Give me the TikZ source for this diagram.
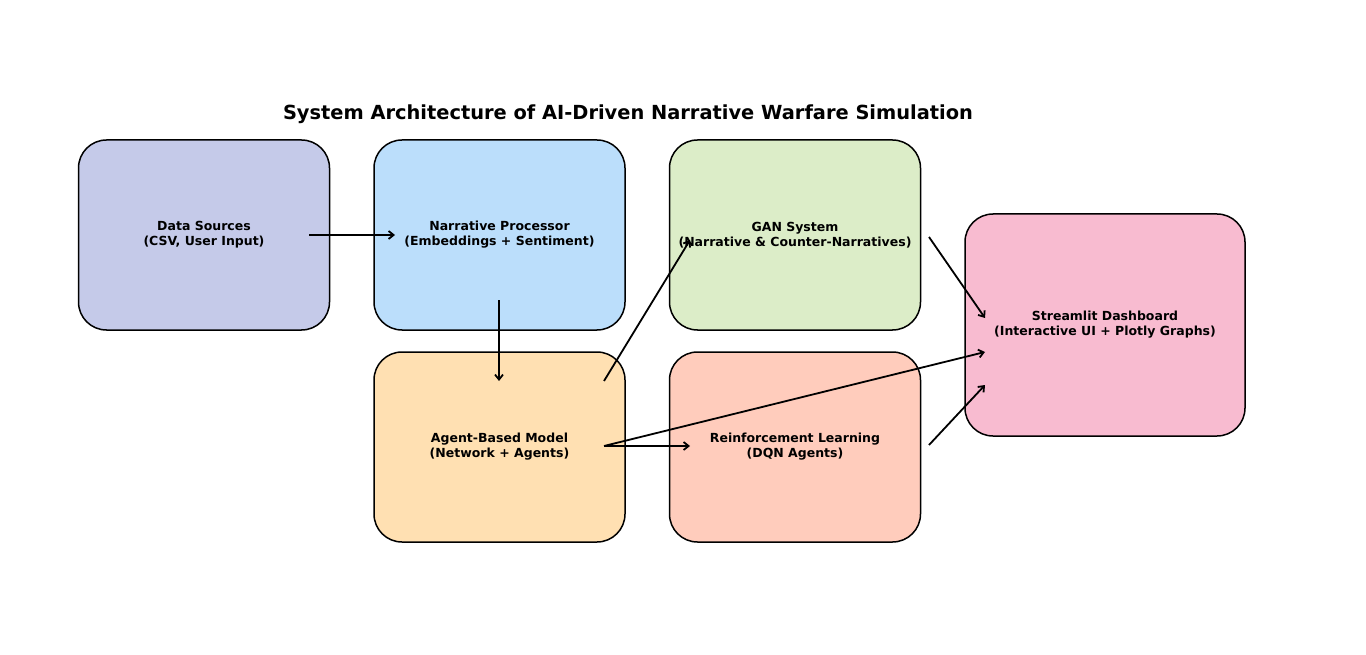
\documentclass[tikz,border=0pt]{standalone}
\usepackage{fontspec}
\setmainfont{DejaVu Sans}
\usepackage{xcolor}
\usetikzlibrary{
    arrows.meta,
    positioning
}
\definecolor{srcfill}{HTML}{C5CAE9}
\definecolor{procfill}{HTML}{BBDEFB}
\definecolor{ganfill}{HTML}{DCEDC8}
\definecolor{dashfill}{HTML}{F8BBD0}
\definecolor{abmfill}{HTML}{FFE0B2}
\definecolor{rlfill}{HTML}{FFCCBC}

\begin{document}
\begin{tikzpicture}[x=1pt, y=-1pt,
    block/.style={draw=black, line width=1.5pt, rounded corners=28pt,
        minimum width=251pt, minimum height=190pt, align=center,
        font=\fontsize{12.5pt}{15pt}\selectfont\bfseries},
    flow/.style={-{Straight Barb[length=5pt,width=8pt]}, line width=1.8pt}]
                        \useasboundingbox (0, 0) rectangle (1366, 655);
                        \node[font=\fontsize{19.4pt}{23pt}\selectfont\bfseries] (title) at (628, 114)
                            {System Architecture of AI-Driven Narrative Warfare Simulation};
                        \node[block, fill=srcfill] (src) at (204, 235)
                            {Data Sources\\(CSV, User Input)};
                        \node[block, fill=procfill] (proc) at (499.5, 235)
                            {Narrative Processor\\(Embeddings + Sentiment)};
                        \node[block, fill=ganfill] (gan) at (795, 235)
                            {GAN System\\(Narrative \& Counter-Narratives)};
                        \node[block, fill=abmfill] (abm) at (499.5, 447)
                            {Agent-Based Model\\(Network + Agents)};
                        \node[block, fill=rlfill] (rl) at (795, 447)
                            {Reinforcement Learning\\(DQN Agents)};
                        \node[block, fill=dashfill, minimum width=280pt, minimum height=222pt] (dash) at (1105, 325)
                            {Streamlit Dashboard\\(Interactive UI + Plotly Graphs)};
                        % arrow end points
                        \coordinate (src-out) at (309, 235);
                        \coordinate (proc-in) at (395, 235);
                        \coordinate (proc-out) at (499, 300);
                        \coordinate (abm-in) at (499, 381);
                        \coordinate (abm-up) at (604, 381);
                        \coordinate (abm-out) at (604, 446);
                        \coordinate (gan-in) at (690, 240);
                        \coordinate (gan-out) at (929, 237);
                        \coordinate (rl-in) at (690, 446);
                        \coordinate (rl-out) at (929, 445);
                        \coordinate (dash-top) at (985, 318);
                        \coordinate (dash-mid) at (985, 352);
                        \coordinate (dash-low) at (985, 385);
                        \draw[flow] (src-out) -- (proc-in);
                        \draw[flow] (proc-out) -- (abm-in);
                        \draw[flow] (abm-up) -- (gan-in);
                        \draw[flow] (abm-out) -- (rl-in);
                        \draw[flow] (abm-out) -- (dash-mid);
                        \draw[flow] (gan-out) -- (dash-top);
                        \draw[flow] (rl-out) -- (dash-low);
                    \end{tikzpicture}
\end{document}
